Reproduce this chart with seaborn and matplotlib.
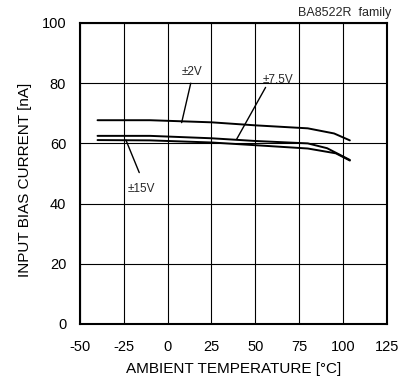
import matplotlib
matplotlib.use("Agg")
import matplotlib.pyplot as plt
import seaborn as sns
import pandas as pd

# Input bias current vs. ambient temperature, per supply voltage
temp_2v = [-40, -10, 25, 50, 80, 95, 104]
ib_2v = [67.7, 67.7, 67.0, 66.0, 65.0, 63.3, 61.0]

temp_7v5 = [-40, -10, 25, 50, 80, 91, 104]
ib_7v5 = [62.5, 62.5, 61.7, 60.8, 60.0, 58.4, 54.5]

temp_15v = [-40, -10, 25, 50, 80, 96, 104]
ib_15v = [61.1, 61.0, 60.3, 59.4, 58.3, 56.7, 54.3]

x_ticks = [-50, -25, 0, 25, 50, 75, 100, 125]
y_ticks = [0, 20, 40, 60, 80, 100]

frames = []
for name, t, v in [("±2V", temp_2v, ib_2v), ("±7.5V", temp_7v5, ib_7v5),
                   ("±15V", temp_15v, ib_15v)]:
    frames.append(pd.DataFrame({"temp": t, "ib": v, "supply": name}))
df = pd.concat(frames, ignore_index=True)

sns.set_theme(style="white")
plt.rcParams["font.family"] = ["Liberation Sans", "DejaVu Sans"]
plt.rcParams["axes.unicode_minus"] = False

fig = plt.figure(figsize=(4.07, 3.80), dpi=100)
ax = fig.add_axes([0.1966, 0.1474, 0.7534, 0.7921])

sns.lineplot(data=df, x="temp", y="ib", hue="supply",
             palette=["black", "black", "black"], linewidth=1.4,
             legend=False, ax=ax, sort=False)

ax.set_xlim(-50, 125)
ax.set_ylim(0, 100)
ax.set_xticks(x_ticks)
ax.set_yticks(y_ticks)
ax.grid(True, color="black", linewidth=0.8)
ax.set_axisbelow(True)
for s in ax.spines.values():
    s.set_color("black")
    s.set_linewidth(1.5)
ax.tick_params(axis="both", labelsize=10.5, colors="black", length=0)
ax.tick_params(axis="x", pad=11.5)
ax.tick_params(axis="y", pad=10)

ax.set_xlabel("AMBIENT TEMPERATURE [°C]", fontsize=11, color="black", labelpad=6)
ax.set_ylabel("INPUT BIAS CURRENT [nA]", fontsize=11, color="black", labelpad=7)
ax.yaxis.label.set_y(0.48)

# Curve labels with leader lines
leader = dict(arrowstyle="-", color="black", lw=1.0, shrinkA=0, shrinkB=0)
ax.annotate("", xy=(8.0, 66.9), xytext=(13.2, 80.0), arrowprops=leader)
ax.text(13.7, 83.8, "±2V", fontsize=8.5, ha="center", va="center")

ax.annotate("", xy=(39.4, 61.4), xytext=(55.9, 78.6), arrowprops=leader)
ax.text(63, 81.1, "±7.5V", fontsize=8.5, ha="center", va="center")

ax.annotate("", xy=(-23.8, 61.1), xytext=(-16.2, 50.3), arrowprops=leader)
ax.text(-14.8, 44.8, "±15V", fontsize=8.5, ha="center", va="center")

fig.text(391.7 / 407, 1 - 12.7 / 380, "BA8522R  family", fontsize=9,
         ha="right", va="center")

fig.savefig("out.png", dpi=100)
